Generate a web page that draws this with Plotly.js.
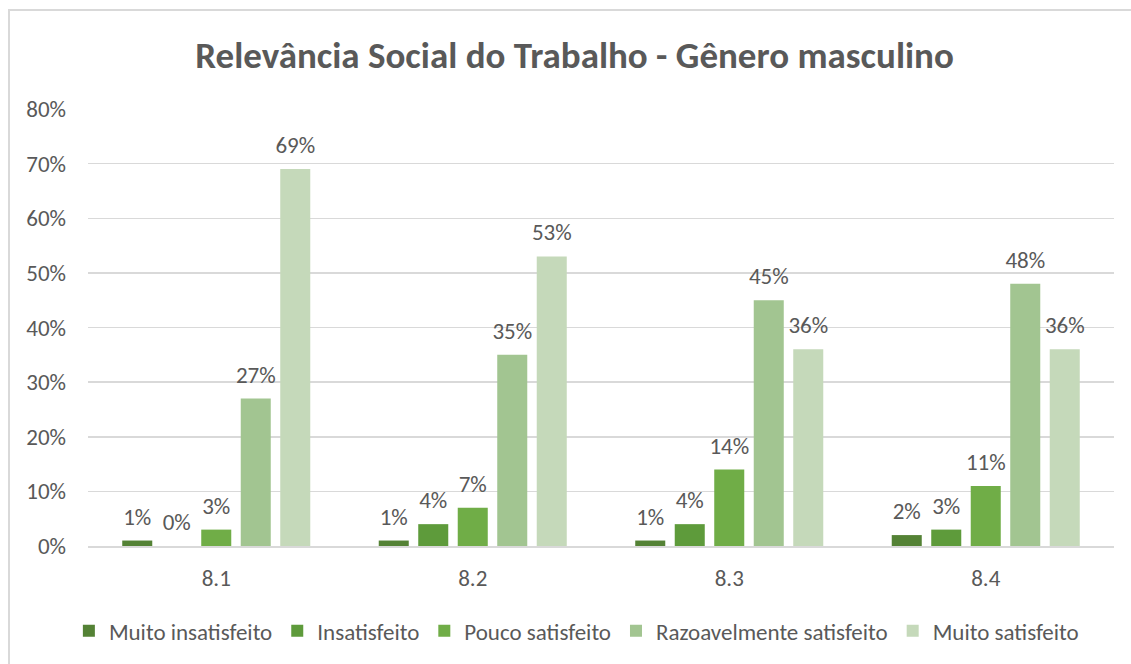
<!DOCTYPE html>
<html>
<head>
<meta charset="utf-8">
<script src="https://cdn.plot.ly/plotly-3.0.1.min.js"></script>
<style>
html,body{margin:0;padding:0;background:#fff;}
#wrap{position:relative;width:1131px;height:664px;overflow:hidden;}
#chart{position:absolute;left:0;top:0;width:1131px;height:664px;}
#frame{position:absolute;left:8px;top:9px;width:1200px;height:700px;border-left:2px solid #d9d9d9;border-top:2px solid #d9d9d9;pointer-events:none;}
#chart .bars .point text.bartext{translate:0px -7px;}
</style>
</head>
<body>
<div id="wrap"><div id="chart"></div><div id="frame"></div></div>
<script>
const categories = ["8.1", "8.2", "8.3", "8.4"];
const seriesNames = ["Muito insatisfeito", "Insatisfeito", "Pouco satisfeito", "Razoavelmente satisfeito", "Muito satisfeito"];
const muitoInsatisfeito = [0.01, 0.01, 0.01, 0.02];
const insatisfeito = [0.00, 0.04, 0.04, 0.03];
const poucoSatisfeito = [0.03, 0.07, 0.14, 0.11];
const razoavelmenteSatisfeito = [0.27, 0.35, 0.45, 0.48];
const muitoSatisfeito = [0.69, 0.53, 0.36, 0.36];
const yTicks = [0, 0.1, 0.2, 0.3, 0.4, 0.5, 0.6, 0.7, 0.8];

const values = [muitoInsatisfeito, insatisfeito, poucoSatisfeito, razoavelmenteSatisfeito, muitoSatisfeito];
const colors = ["#548235", "#5e9b3b", "#70ad47", "#a2c591", "#c5d9ba"];
const FONT = "Carlito, Calibri, 'Liberation Sans Narrow', 'Noto Sans', sans-serif";

const traces = values.map((v, i) => ({
  type: "bar",
  name: seriesNames[i],
  x: categories,
  y: v,
  marker: {color: colors[i]},
  texttemplate: "%{y:.0%}",
  textposition: "outside",
  constraintext: "none",
  textfont: {family: FONT, size: 23, color: "#595959"},
  cliponaxis: false,
  hoverinfo: "none"
}));

const layout = {
  width: 1131, height: 664,
  paper_bgcolor: "rgba(0,0,0,0)",
  plot_bgcolor: "rgba(0,0,0,0)",
  margin: {l: 88, r: 17, t: 109, b: 116},
  font: {family: FONT, color: "#595959", size: 23},
  title: {text: "<b>Relevância Social do Trabalho - Gênero masculino</b>", x: 0.508, xanchor: "center", y: 0.917, yanchor: "middle",
          font: {family: FONT, size: 37, color: "#595959"}},
  barmode: "group",
  bargap: 0.23,
  bargroupgap: 0.24,
  showlegend: true,
  legend: {orientation: "h", x: 0.476, xanchor: "center", y: -0.194, yanchor: "middle",
           font: {family: FONT, size: 23, color: "#595959"}, itemwidth: 30, tracegroupgap: 0},
  xaxis: {type: "category", showgrid: false, showline: true, linecolor: "#d9d9d9", linewidth: 2,
          ticks: "", tickfont: {family: FONT, size: 23, color: "#595959"}, ticklabelstandoff: 10, fixedrange: true},
  yaxis: {range: [0, 0.8], tickvals: yTicks, tickformat: ".0%", showgrid: true, gridcolor: "#d9d9d9", gridwidth: 1.5,
          zeroline: false, showline: false, ticks: "", ticklabelstandoff: 21,
          tickfont: {family: FONT, size: 23, color: "#595959"}, fixedrange: true}
};

Plotly.newPlot("chart", traces, layout, {displayModeBar: false, staticPlot: true});
</script>
</body>
</html>
